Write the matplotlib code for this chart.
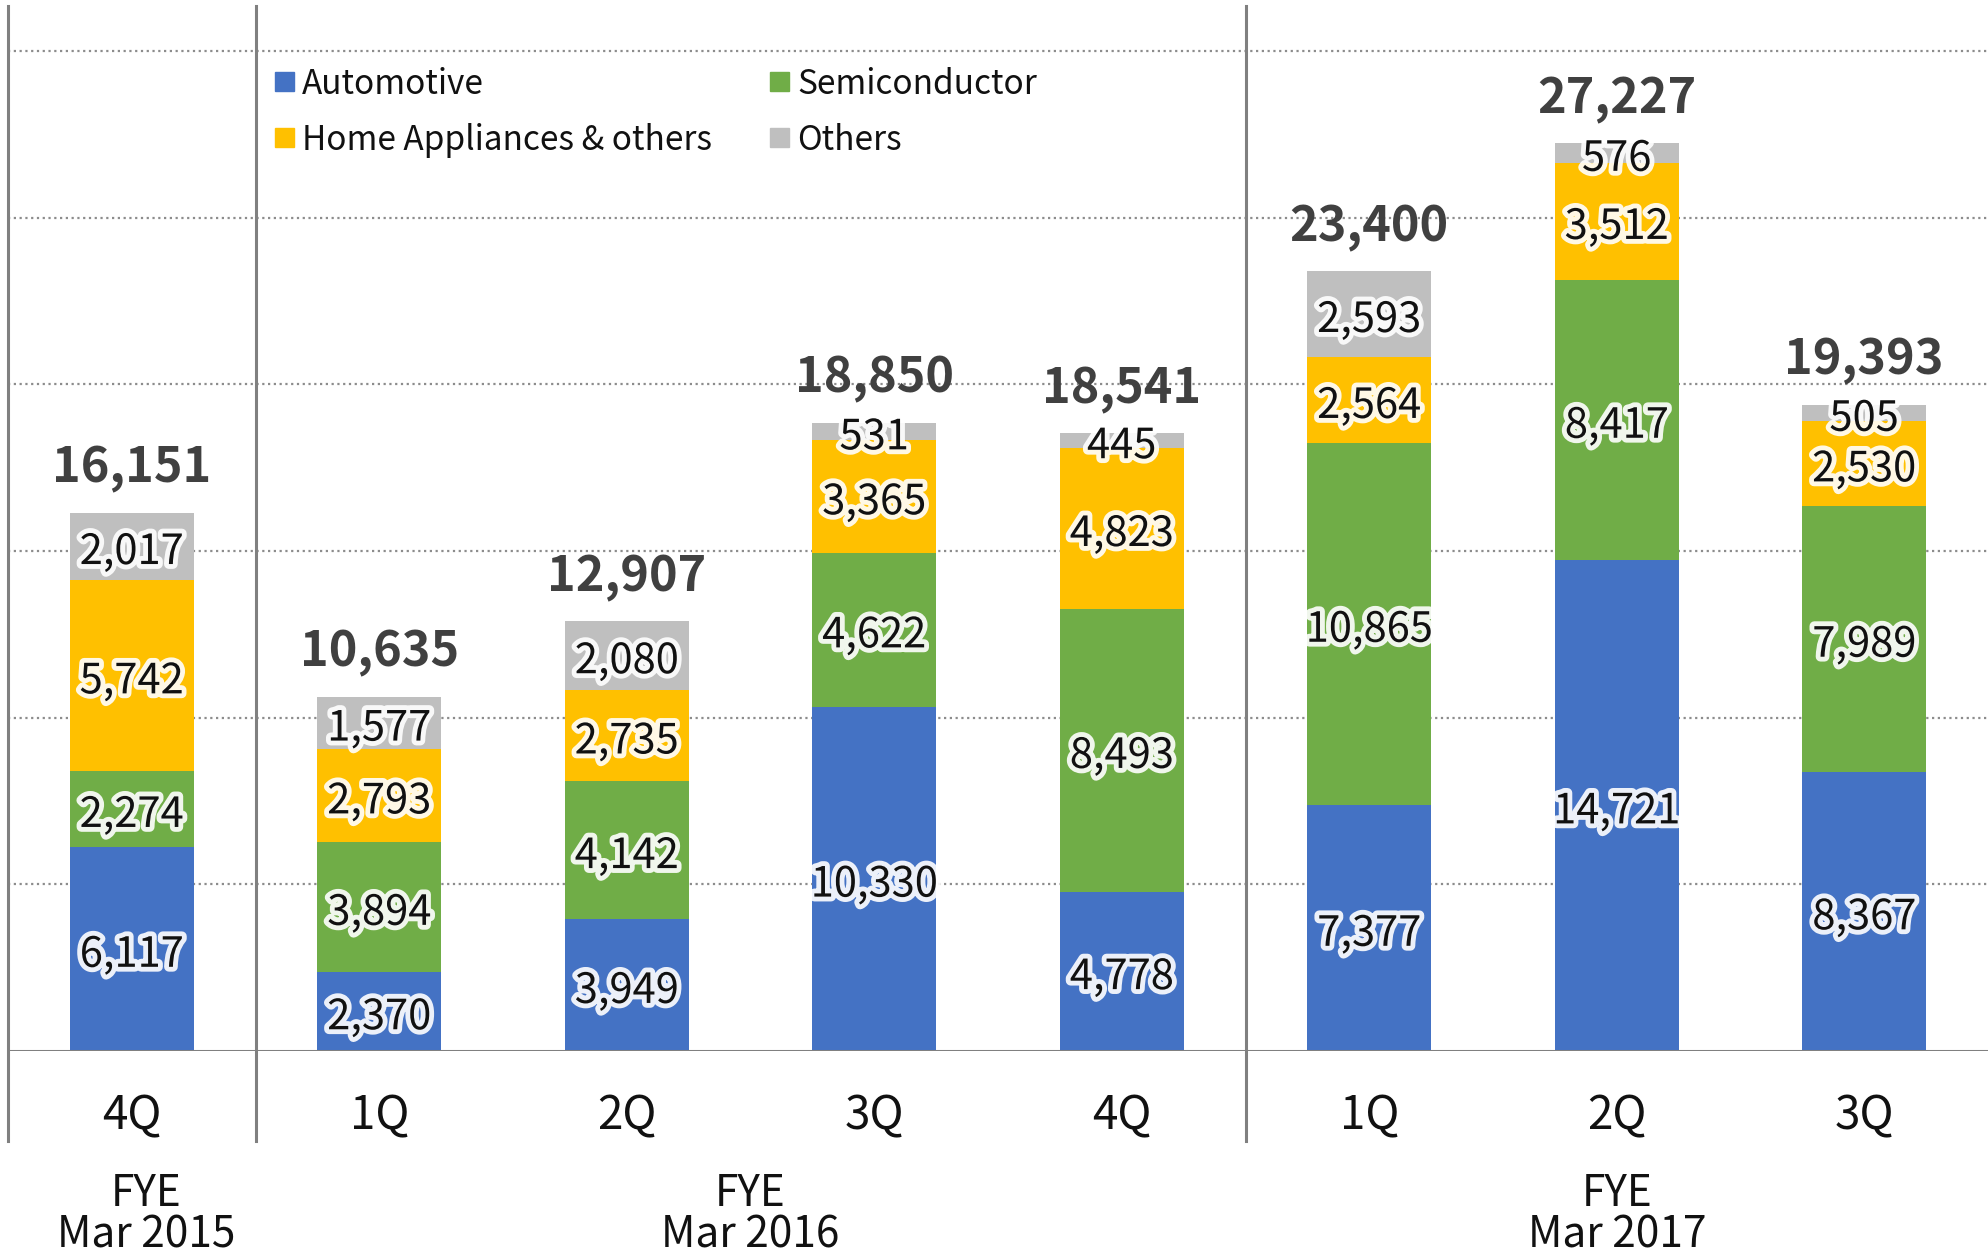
import matplotlib
matplotlib.use('Agg')
import matplotlib.pyplot as plt
import matplotlib.patheffects as pe
import matplotlib.transforms as mtransforms
from matplotlib.patches import Rectangle

categories = ['4Q', '1Q', '2Q', '3Q', '4Q', '1Q', '2Q', '3Q']
group_top = ['FYE', 'FYE', 'FYE']
group_bottom = ['Mar 2015', 'Mar 2016', 'Mar 2017']
group_centers = [0.06, 2.5, 6.0]
group_separators = [-0.5, 0.5, 4.5]
series_names = ['Automotive', 'Semiconductor', 'Home Appliances & others', 'Others']
automotive = [6117, 2370, 3949, 10330, 4778, 7377, 14721, 8367]
semiconductor = [2274, 3894, 4142, 4622, 8493, 10865, 8417, 7989]
home = [5742, 2793, 2735, 3365, 4823, 2564, 3512, 2530]
others = [2017, 1577, 2080, 531, 445, 2593, 576, 505]
totals = [16151, 10635, 12907, 18850, 18541, 23400, 27227, 19393]
colors = ['#4472C4', '#70AD47', '#FFC000', '#BFBFBF']

FONT = ['Noto Sans CJK JP', 'DejaVu Sans']
plt.rcParams['font.family'] = FONT

W, H = 1988, 1256
fig = plt.figure(figsize=(W / 100, H / 100), dpi=100)


def fx(px):
    return px / W


def fy(py):
    return 1 - py / H


ax_left, ax_right, ax_top, ax_bottom = 8, 1988, 6, 1051
ax = fig.add_axes([fx(ax_left), fy(ax_bottom), (ax_right - ax_left) / W, (ax_bottom - ax_top) / H])
ymax = 30000 * (ax_bottom - ax_top) / (ax_bottom - 51)
ax.set_xlim(-0.5, 7.5)
ax.set_ylim(0, ymax)
for s in ax.spines.values():
    s.set_visible(False)
ax.set_xticks([])
ax.set_yticks([])

for v in range(5000, 30001, 5000):
    ax.axhline(v, color='#8c8c8c', lw=1.6, ls=(0, (1, 1.6)), zorder=0)

x = list(range(len(categories)))
series = [automotive, semiconductor, home, others]
bottoms = [0] * len(x)
stroke = [pe.withStroke(linewidth=7, foreground='white', alpha=0.9)]
for vals, col in zip(series, colors):
    ax.bar(x, vals, width=0.5, bottom=bottoms, color=col, zorder=2)
    for xi, v, b in zip(x, vals, bottoms):
        ax.annotate(f'{v:,}', (xi, b + v / 2), xytext=(0, -4.5), textcoords='offset points',
                    ha='center', va='center', fontsize=30,
                    color='#111111', zorder=4, path_effects=stroke)
    bottoms = [b + v for b, v in zip(bottoms, vals)]

for xi, t in zip(x, totals):
    ax.annotate(f'{t:,}', (xi, t), xytext=(0, 31.5), textcoords='offset points',
                ha='center', va='center', fontsize=35, fontweight='bold',
                color='#404040', zorder=5)

ax.axhline(0, color='#808080', lw=2.2, zorder=3)

trans = mtransforms.blended_transform_factory(ax.transData, ax.transAxes)
ybelow = (ax_bottom - 1141) / (ax_bottom - ax_top)
for sx in group_separators:
    ax.plot([sx, sx], [ybelow, 1], transform=trans, color='#808080', lw=2.2,
            clip_on=False, zorder=3)

for xi, c in zip(x, categories):
    ax.text(xi, (ax_bottom - 1116) / (ax_bottom - ax_top), c, transform=trans,
            ha='center', va='center', fontsize=33, color='#111111')

for gc, gt, gb in zip(group_centers, group_top, group_bottom):
    ax.text(gc, (ax_bottom - 1194) / (ax_bottom - ax_top), gt, transform=trans,
            ha='center', va='center', fontsize=30.5, color='#111111', clip_on=False)
    ax.text(gc, (ax_bottom - 1235) / (ax_bottom - ax_top), gb, transform=trans,
            ha='center', va='center', fontsize=30.5, color='#111111', clip_on=False)

# legend (two columns)
leg_pos = [(275, 81), (770, 81), (275, 137), (770, 137)]
sq = 19
for (px, py), name, col in zip(leg_pos, series_names, colors):
    fig.patches.append(Rectangle((fx(px), fy(py + sq / 2)), sq / W, sq / H,
                                 transform=fig.transFigure, color=col, zorder=6))
    fig.text(fx(px + 27), fy(py + 4), name, ha='left', va='center', fontsize=24,
             color='#111111')

fig.savefig('out.png', dpi=100)
